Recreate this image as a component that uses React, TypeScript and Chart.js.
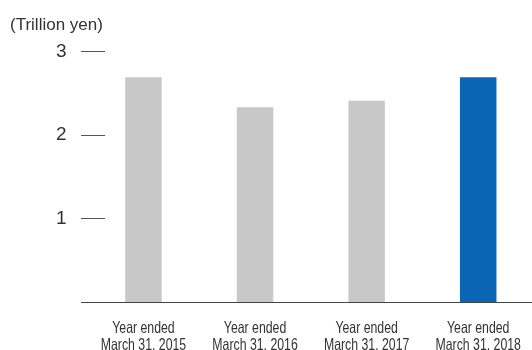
import React, { useEffect, useRef } from "react";
import { Chart, registerables } from "chart.js";

Chart.register(...registerables);

const categories: string[][] = [
  ["Year ended", "March 31, 2015"],
  ["Year ended", "March 31, 2016"],
  ["Year ended", "March 31, 2017"],
  ["Year ended", "March 31, 2018"],
];
const values: number[] = [2.69, 2.33, 2.41, 2.69];
const barColors: string[] = ["#c8c8c8", "#c8c8c8", "#c8c8c8", "#0a66b4"];
const yTicks: number[] = [1, 2, 3];
const unitLabel = "(Trillion yen)";

const axisDecor = {
  id: "axisDecor",
  afterDatasetsDraw(chart: any) {
    const { ctx, scales } = chart;
    const y = scales.y;
    const x = scales.x;
    ctx.save();
    ctx.strokeStyle = "#555555";
    ctx.lineWidth = 1;
    // tick marks
    yTicks.forEach((v) => {
      const py = Math.round(y.getPixelForValue(v)) + 0.5;
      ctx.beginPath();
      ctx.moveTo(81, py);
      ctx.lineTo(105, py);
      ctx.stroke();
    });
    // baseline
    const by = Math.round(y.getPixelForValue(0)) + 0.5;
    ctx.strokeStyle = "#444444";
    ctx.beginPath();
    ctx.moveTo(81, by);
    ctx.lineTo(532, by);
    ctx.stroke();
    // condensed category labels, placed by the x scale
    ctx.fillStyle = "#333333";
    ctx.font = "16.5px 'Liberation Sans', Arial, sans-serif";
    ctx.textAlign = "center";
    ctx.textBaseline = "alphabetic";
    categories.forEach((lines, i) => {
      const px = x.getPixelForTick(i);
      lines.forEach((line, j) => {
        ctx.save();
        ctx.translate(px, by + 30 + j * 17.5);
        ctx.scale(0.745, 1);
        ctx.fillText(line, 0, 0);
        ctx.restore();
      });
    });
    ctx.restore();
  },
};

export default function App() {
  const ref = useRef<HTMLCanvasElement>(null);
  useEffect(() => {
    if (!ref.current) return;
    const chart = new Chart(ref.current, {
      type: "bar",
      data: {
        labels: categories,
        datasets: [
          {
            data: values,
            backgroundColor: barColors,
            borderWidth: 0,
            categoryPercentage: 1,
            barPercentage: 0.327,
          },
        ],
      },
      options: {
        responsive: false,
        animation: false,
        layout: { padding: { left: 10, right: 2, top: 0, bottom: 0 } },
        plugins: {
          legend: { display: false },
          tooltip: { enabled: false },
          title: {
            display: true,
            text: unitLabel,
            align: "start",
            color: "#333333",
            font: { family: "'Liberation Sans', Arial, sans-serif", size: 17, weight: "normal" },
            padding: { top: 15, bottom: 16 },
          },
        },
        scales: {
          x: {
            grid: { display: false, drawTicks: false },
            border: { display: false },
            ticks: { display: false },
            afterFit: (s: any) => {
              s.height = 48;
              s.paddingLeft = 0;
              s.paddingRight = 0;
            },
          },
          y: {
            min: 0,
            max: 3,
            grid: { display: false, drawTicks: false },
            border: { display: false },
            ticks: {
              stepSize: 1,
              color: "#333333",
              padding: 21,
              font: { family: "'Liberation Sans', Arial, sans-serif", size: 19 },
              callback: (v: any) => (yTicks.includes(Number(v)) ? String(v) : ""),
            },
            afterFit: (s: any) => {
              s.width = 77.67;
            },
          },
        },
      },
      plugins: [axisDecor],
    });
    return () => chart.destroy();
  }, []);
  return (
    <div style={{ position: "absolute", left: 0, top: 0, width: 532, height: 350, overflow: "hidden", background: "#ffffff" }}>
      <canvas ref={ref} width={536} height={350} style={{ display: "block" }} />
    </div>
  );
}
